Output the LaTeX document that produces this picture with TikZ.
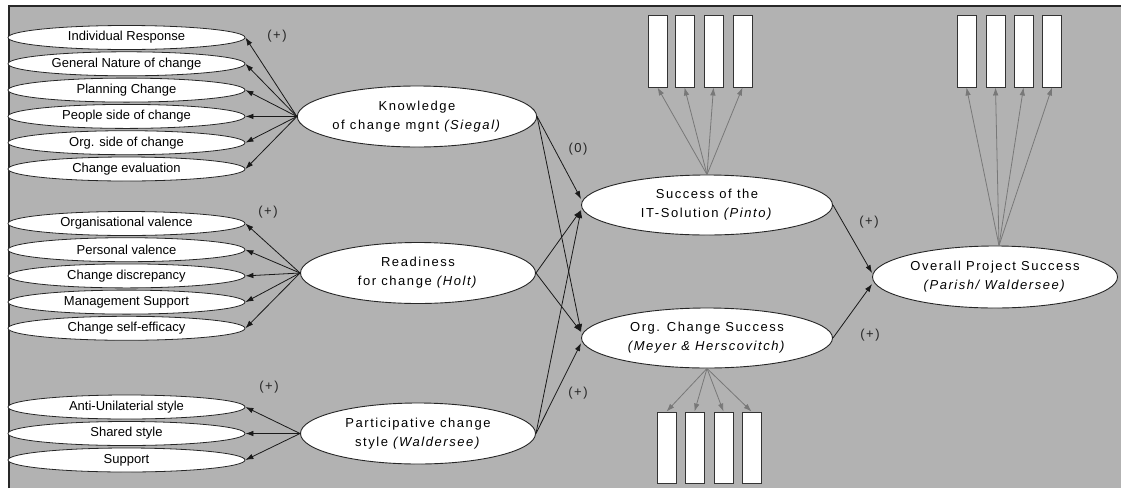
\documentclass[tikz,border=0pt]{standalone}
\usepackage{fontspec}
\setmainfont{Liberation Sans}
\newfontfamily\widefont[LetterSpace=12]{Liberation Sans}
\usetikzlibrary{shapes.geometric,arrows.meta}
\definecolor{bggray}{RGB}{178,178,178}
\definecolor{framegray}{RGB}{40,40,40}
\definecolor{indgray}{RGB}{120,120,120}

\begin{document}
\begin{tikzpicture}[x=1pt,y=-1pt,
  smallell/.style={ellipse, draw=black!85, fill=white, line width=0.8pt,
    minimum width=237pt, minimum height=24pt, inner sep=0pt,
    font=\fontsize{13}{15}\selectfont},
  bigell/.style={ellipse, draw=black!85, fill=white, line width=0.9pt,
    minimum width=235pt, minimum height=61pt, inner sep=0pt, align=center,
    font=\widefont\fontsize{13}{19}\selectfont},
  indbox/.style={rectangle, draw=black!80, fill=white, line width=0.9pt,
    minimum width=19pt, minimum height=72pt, inner sep=0pt},
  sign/.style={font=\widefont\fontsize{13}{15}\selectfont, text=black!85, inner sep=0pt},
  conn/.style={draw=black!90, line width=0.8pt, -{Latex[length=8pt,width=5.5pt]}},
  ind/.style={draw=indgray, line width=0.8pt, -{Latex[length=8pt,width=5.5pt]}},
]
\useasboundingbox (0,0) rectangle (1121,488);
% canvas and frame
\fill[white] (0,0) rectangle (1121,488);
\fill[bggray] (9,6) rectangle (1121,488);
\draw[framegray, line width=1.6pt] (9,488) -- (9,6) -- (1121,6);

% knowledge of change management dimensions
\node[smallell] (k1) at (126.5,37.5) {Individual Response};
\node[smallell] (k2) at (126.5,63.8) {General Nature of change};
\node[smallell] (k3) at (126.5,90.1) {Planning Change};
\node[smallell] (k4) at (126.5,116.4) {People side of change};
\node[smallell] (k5) at (126.5,142.7) {Org. side of change};
\node[smallell] (k6) at (126.5,169) {Change evaluation};

% readiness dimensions
\node[smallell] (r1) at (126.5,223.5) {Organisational valence};
\node[smallell] (r2) at (126.5,249.7) {Personal valence};
\node[smallell] (r3) at (126.5,275.9) {Change discrepancy};
\node[smallell] (r4) at (126.5,302.1) {Management Support};
\node[smallell] (r5) at (126.5,328.3) {Change self-efficacy};

% participative style dimensions
\node[smallell] (p1) at (126.5,407) {Anti-Unilaterial style};
\node[smallell] (p2) at (126.5,433.5) {Shared style};
\node[smallell] (p3) at (126.5,460) {Support};

% constructs
\node[bigell] (K) at (417,116.5) {Knowledge\\of change mgnt \textit{(Siegal)}};
\node[bigell] (R) at (418,273) {Readiness\\for change \textit{(Holt)}};
\node[bigell] (P) at (418,433.5) {Participative change\\style \textit{(Waldersee)}};
\node[bigell, minimum width=251pt, minimum height=60pt] (IT) at (707,205)
  {Success of the\\IT-Solution \textit{(Pinto)}};
\node[bigell, minimum width=251pt, minimum height=60pt] (OC) at (707,338)
  {Org. Change Success\\\textit{(Meyer \& Herscovitch)}};
\node[bigell, minimum width=245pt, minimum height=62pt] (OV) at (995,277)
  {Overall Project Success\\\textit{(Parish/ Waldersee)}};

% indicator boxes
\node[indbox] (i1) at (657.5,51) {};
\node[indbox] (i2) at (684.5,51) {};
\node[indbox] (i3) at (713.5,51) {};
\node[indbox] (i4) at (742.5,51) {};
\node[indbox] (o1) at (966.5,51) {};
\node[indbox] (o2) at (995.5,51) {};
\node[indbox] (o3) at (1023.5,51) {};
\node[indbox] (o4) at (1052,51) {};
\node[indbox, minimum height=71pt] (c1) at (666.5,447.5) {};
\node[indbox, minimum height=71pt] (c2) at (694.5,447.5) {};
\node[indbox, minimum height=71pt] (c3) at (723.5,447.5) {};
\node[indbox, minimum height=71pt] (c4) at (751.5,447.5) {};

% construct to dimension links
\foreach \n in {k1,k2,k3,k4,k5,k6} \draw[conn] (K.west) -- (\n.east);
\foreach \n in {r1,r2,r3,r4,r5} \draw[conn] (R.west) -- (\n.east);
\foreach \n in {p1,p2,p3} \draw[conn] (P.west) -- (\n.east);

% structural paths
\draw[conn] (K.east) -- ([yshift=6pt]IT.west);
\draw[conn] (R.east) -- ([yshift=-5pt]IT.west);
\draw[conn] (P.east) -- ([yshift=-5pt]IT.west);
\draw[conn] (K.east) -- ([yshift=6pt]OC.west);
\draw[conn] (R.east) -- ([yshift=6pt]OC.west);
\draw[conn] (P.east) -- ([yshift=-5pt]OC.west);
\draw[conn] (IT.east) -- ([yshift=4pt]OV.west);
\draw[conn] (OC.east) -- ([yshift=-7pt]OV.west);

% indicator links
\foreach \n in {i1,i2,i3,i4} \draw[ind] (IT.north) -- (\n.south);
\foreach \n in {o1,o2,o3,o4} \draw[ind] ([xshift=4pt]OV.north) -- (\n.south);
\foreach \n in {c1,c2,c3,c4} \draw[ind] (OC.south) -- (\n.north);

% path signs
\node[sign] (s1) at (277,36) {(+)};
\node[sign] (s2) at (268,212) {(+)};
\node[sign] (s3) at (269,387) {(+)};
\node[sign] (s4) at (578,149) {(0)};
\node[sign] (s5) at (578,393) {(+)};
\node[sign] (s6) at (869,222) {(+)};
\node[sign] (s7) at (870,335) {(+)};
\end{tikzpicture}
\end{document}
